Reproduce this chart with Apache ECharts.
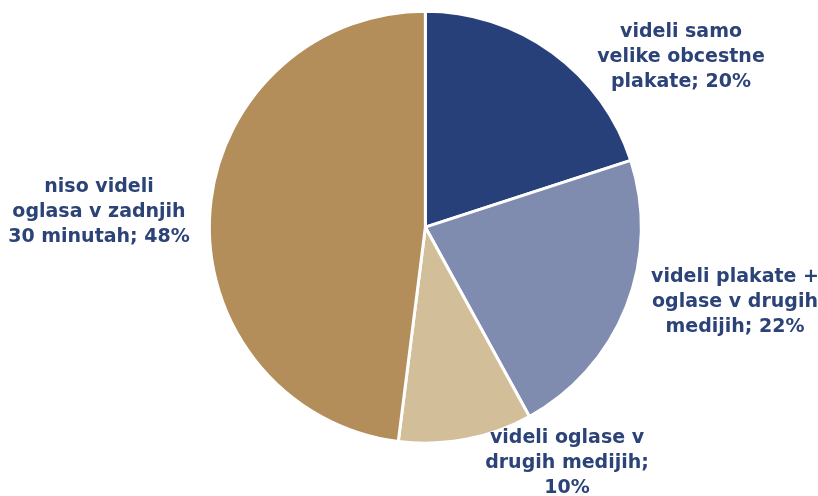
<!DOCTYPE html>
<html><head><meta charset="utf-8">
<script src="https://cdn.jsdelivr.net/npm/echarts@6/dist/echarts.min.js"></script>
<style>html,body{margin:0;padding:0;background:#fff}#c{width:818px;height:496px}</style>
</head><body><div id="c"></div>
<script>
const categories = ['videli samo velike obcestne plakate', 'videli plakate + oglase v drugih medijih', 'videli oglase v drugih medijih', 'niso videli oglasa v zadnjih 30 minutah'];
const values = [20, 22, 10, 48];
const colors = ['#27407a', '#7f8cb0', '#d3be9a', '#b38e5a'];
const labelTexts = ['videli samo\nvelike obcestne\nplakate; 20%', 'videli plakate +\noglase v drugih\nmedijih; 22%', 'videli oglase v\ndrugih medijih;\n10%', 'niso videli\noglasa v zadnjih\n30 minutah; 48%'];
// label anchor centres (layout)
const labelAnchors = [[681, 57], [735, 302], [567, 463], [99, 212]];

const chart = echarts.init(document.getElementById('c'), null, {renderer: 'canvas'});
chart.setOption({
  animation: false,
  backgroundColor: '#ffffff',
  series: [{
    type: 'pie',
    center: ['52%', '45.8%'],
    radius: 216,
    startAngle: 90,
    clockwise: true,
    itemStyle: {borderColor: '#ffffff', borderWidth: 3},
    label: {
      show: true,
      position: 'outside',
      formatter: p => labelTexts[p.dataIndex],
      color: '#2c4378',
      fontFamily: 'DejaVu Sans',
      fontWeight: 'bold',
      fontSize: 19,
      lineHeight: 25,
      align: 'center',
      overflow: 'none',
      width: 300
    },
    labelLine: {show: false},
    labelLayout: p => ({x: labelAnchors[p.dataIndex][0], y: labelAnchors[p.dataIndex][1], align: 'center', verticalAlign: 'middle'}),
    data: values.map((v, i) => ({name: categories[i], value: v, itemStyle: {color: colors[i]}}))
  }]
});
</script></body></html>
